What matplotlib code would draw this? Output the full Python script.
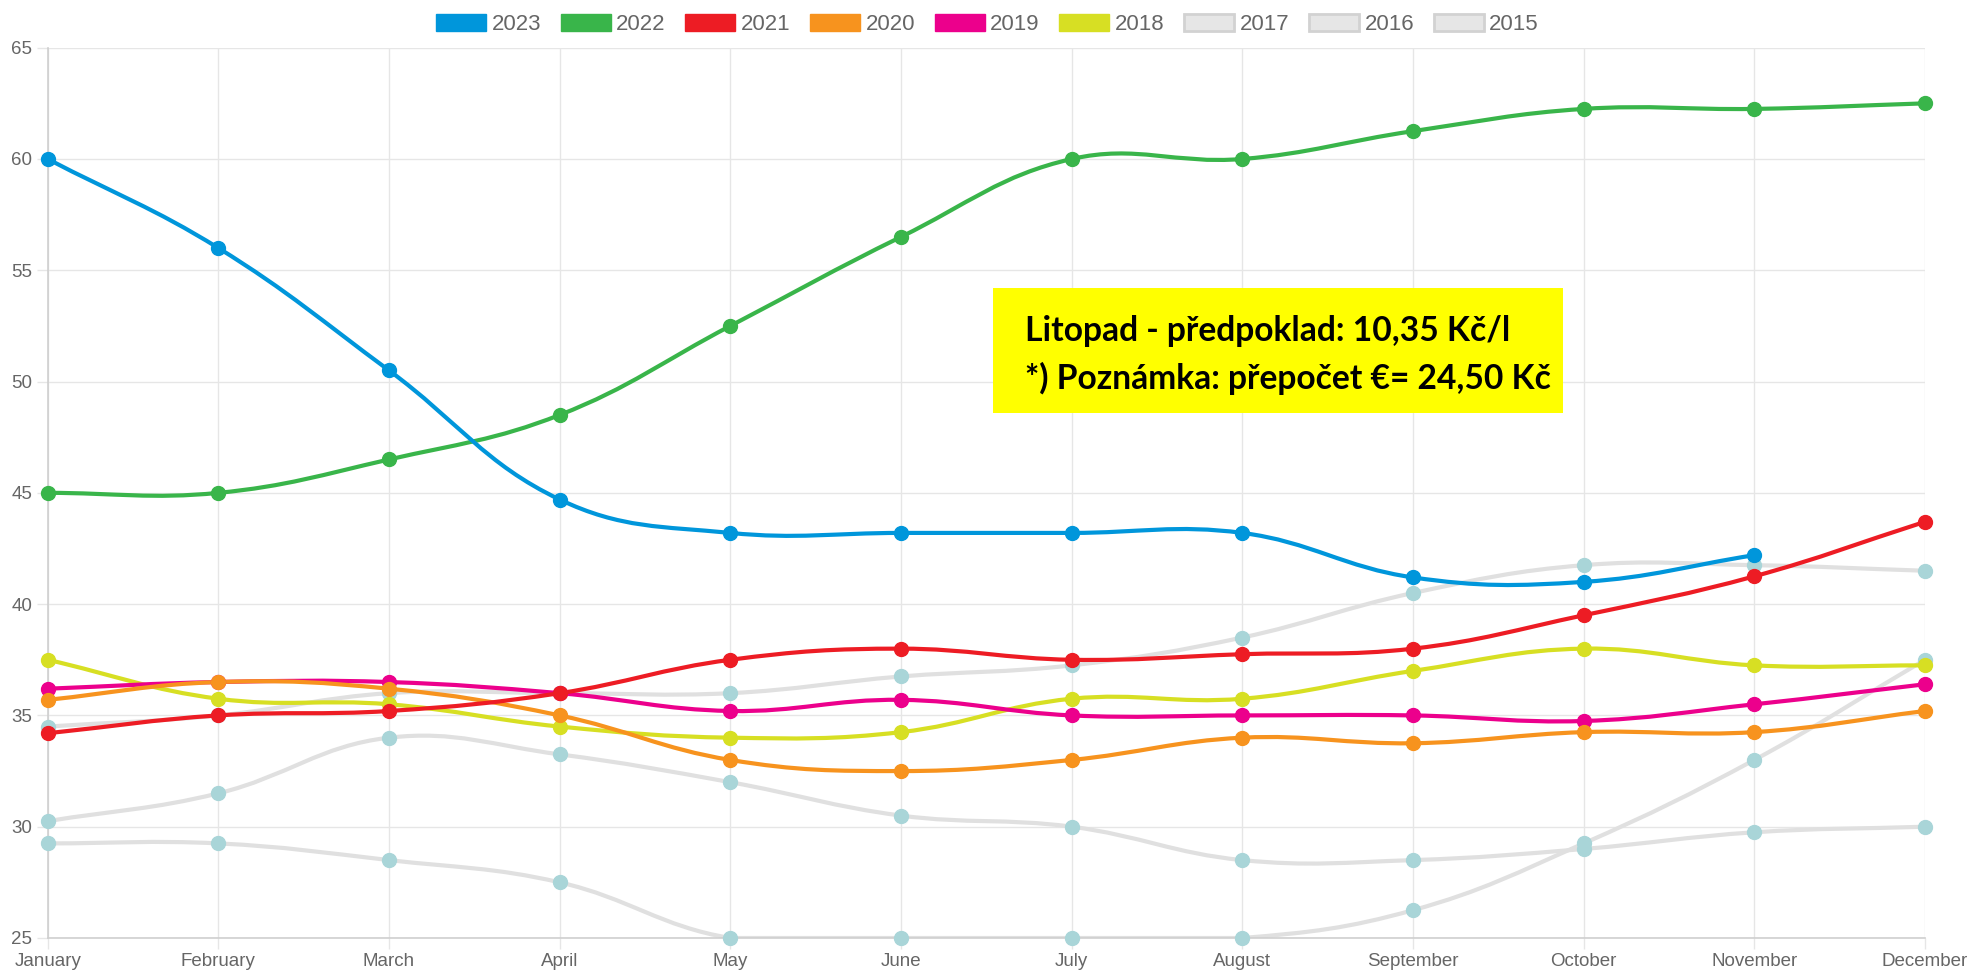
import matplotlib
matplotlib.use('Agg')
import matplotlib.pyplot as plt
from matplotlib.path import Path
from matplotlib.patches import PathPatch, Patch, Rectangle
import numpy as np

months = ['January', 'February', 'March', 'April', 'May', 'June', 'July',
          'August', 'September', 'October', 'November', 'December']

y2023 = [60.0, 56.0, 50.5, 44.7, 43.2, 43.2, 43.2, 43.2, 41.2, 41.0, 42.2]
y2022 = [45.0, 45.0, 46.5, 48.5, 52.5, 56.5, 60.0, 60.0, 61.25, 62.25, 62.25, 62.5]
y2021 = [34.2, 35.0, 35.2, 36.0, 37.5, 38.0, 37.5, 37.75, 38.0, 39.5, 41.25, 43.7]
y2020 = [35.7, 36.5, 36.2, 35.0, 33.0, 32.5, 33.0, 34.0, 33.75, 34.25, 34.25, 35.2]
y2019 = [36.2, 36.5, 36.5, 36.0, 35.2, 35.7, 35.0, 35.0, 35.0, 34.75, 35.5, 36.4]
y2018 = [37.5, 35.75, 35.5, 34.5, 34.0, 34.25, 35.75, 35.75, 37.0, 38.0, 37.25, 37.25]
y2017 = [34.5, 35.0, 36.0, 36.0, 36.0, 36.75, 37.25, 38.5, 40.5, 41.75, 41.75, 41.5]
y2016 = [30.25, 31.5, 34.0, 33.25, 32.0, 30.5, 30.0, 28.5, 28.5, 29.0, 29.75, 30.0]
y2015 = [29.25, 29.25, 28.5, 27.5, 25.0, 25.0, 25.0, 25.0, 26.25, 29.25, 33.0, 37.5]

labels = ['2023', '2022', '2021', '2020', '2019', '2018', '2017', '2016', '2015']
colors = ['#0096db', '#39b54a', '#ed1c24', '#f7931e', '#ec008c', '#d7df23']
values = [y2023, y2022, y2021, y2020, y2019, y2018, y2017, y2016, y2015]

note_lines = ['Litopad - předpoklad: 10,35 Kč/l',
              '*) Poznámka: přepočet €= 24,50 Kč']

GRAY_LINE = '#e0e0e0'
GRAY_MARK = '#a9d5d8'
TICK_COLOR = '#666666'
FONT = ['Liberation Sans', 'DejaVu Sans']

fig = plt.figure(figsize=(19.69, 9.76), dpi=100)
L, R, T, Bt = 47.7 / 1969, 1925 / 1969, 47.7 / 976, 938 / 976
ax = fig.add_axes([L, 1 - Bt, R - L, Bt - T])
ax.set_xlim(0, 11)
ax.set_ylim(25, 65)


def smooth_path(xs, ys, t=0.4):
    pts = ax.transData.transform(np.column_stack([xs, ys]))
    n = len(pts)
    cprev, cnext = [], []
    for i in range(n):
        prev = pts[i - 1] if i > 0 else pts[i]
        cur = pts[i]
        nxt = pts[i + 1] if i < n - 1 else pts[i]
        d01 = np.hypot(*(cur - prev))
        d12 = np.hypot(*(nxt - cur))
        s = d01 + d12
        s01 = d01 / s if s else 0
        s12 = d12 / s if s else 0
        cprev.append(cur - t * s01 * (nxt - prev))
        cnext.append(cur + t * s12 * (nxt - prev))
    verts = [pts[0]]
    codes = [Path.MOVETO]
    for i in range(1, n):
        verts += [cnext[i - 1], cprev[i], pts[i]]
        codes += [Path.CURVE4] * 3
    v = ax.transData.inverted().transform(np.array(verts))
    v[:, 1] = np.clip(v[:, 1], 25, 65)
    return Path(v, codes)


LW = 3.0
MS = 10

# gray (older) series first
for lab, ys in zip(labels[6:][::-1], values[6:][::-1]):
    xs = np.arange(len(ys))
    ax.add_patch(PathPatch(smooth_path(xs, ys), facecolor='none', edgecolor=GRAY_LINE,
                           lw=LW, zorder=2, capstyle='round', joinstyle='round'))
    ax.plot(xs, ys, 'o', color=GRAY_MARK, ms=MS, mec=GRAY_MARK, zorder=3, clip_on=False)

for lab, ys, c in list(zip(labels[:6], values[:6], colors))[::-1]:
    xs = np.arange(len(ys))
    ax.add_patch(PathPatch(smooth_path(xs, ys), facecolor='none', edgecolor=c,
                           lw=LW, zorder=4, capstyle='round', joinstyle='round'))
    ax.plot(xs, ys, 'o', color=c, ms=MS, mec=c, zorder=5, clip_on=False)

ax.set_xticks(np.arange(12))
ax.set_xticklabels(months)
ax.set_yticks(np.arange(25, 66, 5))
ax.grid(True, color='#e6e6e6', lw=1.0, zorder=0)
for s in ['top', 'right']:
    ax.spines[s].set_visible(False)
for s in ['left', 'bottom']:
    ax.spines[s].set_color('#cfcfcf')
    ax.spines[s].set_linewidth(1.2)
ax.tick_params(axis='both', colors='#e6e6e6', length=8, width=1.0,
               labelcolor=TICK_COLOR, labelsize=13.5, pad=3)
for lbl in ax.get_xticklabels() + ax.get_yticklabels():
    lbl.set_family(FONT)

# legend
handles = []
for i, lab in enumerate(labels):
    if i < 6:
        handles.append(Patch(facecolor=colors[i], edgecolor=colors[i], lw=1))
    else:
        handles.append(Patch(facecolor='#e6e6e6', edgecolor='#d2d2d2', lw=2))
leg = fig.legend(handles, labels, loc='center', bbox_to_anchor=(0.5015, 0.9745), ncol=9,
                 frameon=False, handlelength=2.25, handleheight=0.75,
                 handletextpad=0.25, columnspacing=0.88, labelcolor=TICK_COLOR,
                 prop={'family': FONT, 'size': 16})

# note box
fig.patches.append(Rectangle((993 / 1969, 1 - 413 / 976), 570 / 1969, 125 / 976,
                             transform=fig.transFigure, facecolor='#ffff00',
                             edgecolor='none', zorder=10))
fig.text(1025 / 1969, 0.661, note_lines[0], fontsize=24.2, fontweight='bold',
         family=['Lato', 'DejaVu Sans'], va='center', ha='left', zorder=11)
fig.text(1025 / 1969, 0.612, note_lines[1], fontsize=24.2, fontweight='bold',
         family=['Lato', 'DejaVu Sans'], va='center', ha='left', zorder=11)

fig.savefig('out.png', dpi=100)
